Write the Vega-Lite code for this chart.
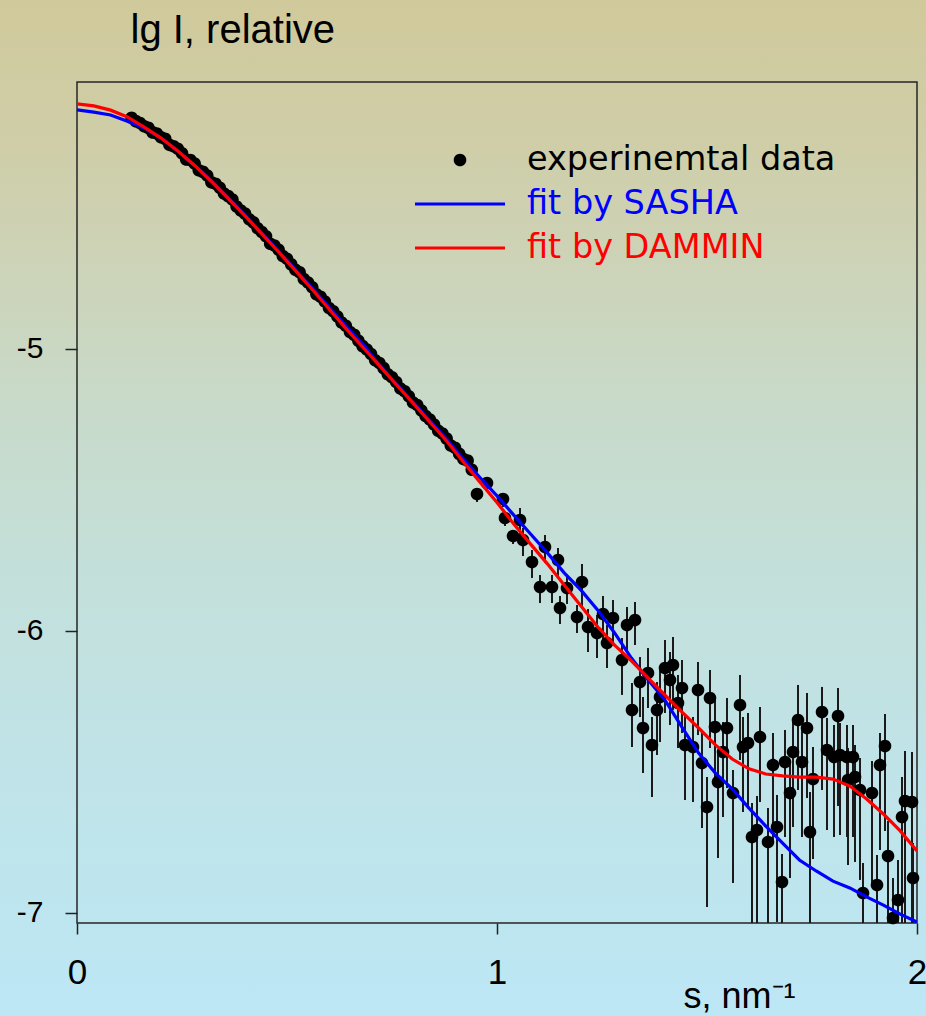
{
  "$schema": "https://vega.github.io/schema/vega-lite/v6.json",
  "width": 840,
  "height": 841,
  "autosize": {"type": "none"},
  "padding": {"left": 77, "top": 82, "right": 9, "bottom": 93},
  "background": "#c6dcd4",
  "config": {
    "view": {"stroke": null},
    "axis": {"zindex": 1, "grid": false, "domain": false, "tickColor": "#222222", "tickWidth": 1.5, "labelColor": "#000000", "titleColor": "#000000", "labelFont": "Liberation Sans", "titleFont": "Liberation Sans", "titleFontWeight": "normal"}
  },
  "datasets": {
    "bg": [{"x0": -0.3, "x1": 2.1, "y0": -3.5, "y1": -7.5}],
    "frame": [{"x0": 0, "x1": 2, "y0": -7.0355, "y1": -4.0532}],
    "sasha": [
      {"s": 0, "v": -4.152, "series": "fit by SASHA"}, {"s": 0.04, "v": -4.160, "series": "fit by SASHA"}, {"s": 0.08, "v": -4.170, "series": "fit by SASHA"}, {"s": 0.12, "v": -4.192, "series": "fit by SASHA"}, {"s": 0.16, "v": -4.216, "series": "fit by SASHA"}, {"s": 0.2, "v": -4.252, "series": "fit by SASHA"}, {"s": 0.24, "v": -4.298, "series": "fit by SASHA"}, {"s": 0.28, "v": -4.349, "series": "fit by SASHA"}, {"s": 0.32, "v": -4.404, "series": "fit by SASHA"}, {"s": 0.36, "v": -4.465, "series": "fit by SASHA"}, {"s": 0.4, "v": -4.525, "series": "fit by SASHA"}, {"s": 0.44, "v": -4.589, "series": "fit by SASHA"}, {"s": 0.48, "v": -4.653, "series": "fit by SASHA"}, {"s": 0.52, "v": -4.718, "series": "fit by SASHA"}, {"s": 0.56, "v": -4.784, "series": "fit by SASHA"}, {"s": 0.6, "v": -4.851, "series": "fit by SASHA"}, {"s": 0.64, "v": -4.918, "series": "fit by SASHA"}, {"s": 0.68, "v": -4.982, "series": "fit by SASHA"}, {"s": 0.72, "v": -5.057, "series": "fit by SASHA"}, {"s": 0.76, "v": -5.124, "series": "fit by SASHA"}, {"s": 0.8, "v": -5.188, "series": "fit by SASHA"}, {"s": 0.84, "v": -5.254, "series": "fit by SASHA"}, {"s": 0.88, "v": -5.319, "series": "fit by SASHA"}, {"s": 0.92, "v": -5.390, "series": "fit by SASHA"}, {"s": 0.96, "v": -5.457, "series": "fit by SASHA"}, {"s": 1.0, "v": -5.521, "series": "fit by SASHA"}, {"s": 1.04, "v": -5.589, "series": "fit by SASHA"}, {"s": 1.08, "v": -5.656, "series": "fit by SASHA"}, {"s": 1.12, "v": -5.723, "series": "fit by SASHA"}, {"s": 1.16, "v": -5.794, "series": "fit by SASHA"}, {"s": 1.2, "v": -5.855, "series": "fit by SASHA"}, {"s": 1.24, "v": -5.926, "series": "fit by SASHA"}, {"s": 1.28, "v": -6.007, "series": "fit by SASHA"}, {"s": 1.32, "v": -6.096, "series": "fit by SASHA"}, {"s": 1.36, "v": -6.174, "series": "fit by SASHA"}, {"s": 1.4, "v": -6.245, "series": "fit by SASHA"}, {"s": 1.44, "v": -6.340, "series": "fit by SASHA"}, {"s": 1.48, "v": -6.433, "series": "fit by SASHA"}, {"s": 1.52, "v": -6.504, "series": "fit by SASHA"}, {"s": 1.56, "v": -6.560, "series": "fit by SASHA"}, {"s": 1.6, "v": -6.628, "series": "fit by SASHA"}, {"s": 1.64, "v": -6.692, "series": "fit by SASHA"}, {"s": 1.68, "v": -6.752, "series": "fit by SASHA"}, {"s": 1.72, "v": -6.812, "series": "fit by SASHA"}, {"s": 1.76, "v": -6.851, "series": "fit by SASHA"}, {"s": 1.8, "v": -6.887, "series": "fit by SASHA"}, {"s": 1.84, "v": -6.911, "series": "fit by SASHA"}, {"s": 1.88, "v": -6.943, "series": "fit by SASHA"}, {"s": 1.92, "v": -6.972, "series": "fit by SASHA"}, {"s": 1.96, "v": -7.004, "series": "fit by SASHA"}, {"s": 2.0, "v": -7.032, "series": "fit by SASHA"}
    ],
    "dammin": [
      {"s": 0, "v": -4.131, "series": "fit by DAMMIN"}, {"s": 0.04, "v": -4.138, "series": "fit by DAMMIN"}, {"s": 0.08, "v": -4.153, "series": "fit by DAMMIN"}, {"s": 0.12, "v": -4.177, "series": "fit by DAMMIN"}, {"s": 0.16, "v": -4.213, "series": "fit by DAMMIN"}, {"s": 0.2, "v": -4.252, "series": "fit by DAMMIN"}, {"s": 0.24, "v": -4.298, "series": "fit by DAMMIN"}, {"s": 0.28, "v": -4.349, "series": "fit by DAMMIN"}, {"s": 0.32, "v": -4.406, "series": "fit by DAMMIN"}, {"s": 0.36, "v": -4.466, "series": "fit by DAMMIN"}, {"s": 0.4, "v": -4.528, "series": "fit by DAMMIN"}, {"s": 0.44, "v": -4.592, "series": "fit by DAMMIN"}, {"s": 0.48, "v": -4.656, "series": "fit by DAMMIN"}, {"s": 0.52, "v": -4.722, "series": "fit by DAMMIN"}, {"s": 0.56, "v": -4.789, "series": "fit by DAMMIN"}, {"s": 0.6, "v": -4.858, "series": "fit by DAMMIN"}, {"s": 0.64, "v": -4.927, "series": "fit by DAMMIN"}, {"s": 0.68, "v": -4.993, "series": "fit by DAMMIN"}, {"s": 0.72, "v": -5.059, "series": "fit by DAMMIN"}, {"s": 0.76, "v": -5.126, "series": "fit by DAMMIN"}, {"s": 0.8, "v": -5.192, "series": "fit by DAMMIN"}, {"s": 0.84, "v": -5.259, "series": "fit by DAMMIN"}, {"s": 0.88, "v": -5.326, "series": "fit by DAMMIN"}, {"s": 0.92, "v": -5.401, "series": "fit by DAMMIN"}, {"s": 0.96, "v": -5.473, "series": "fit by DAMMIN"}, {"s": 1.0, "v": -5.544, "series": "fit by DAMMIN"}, {"s": 1.04, "v": -5.621, "series": "fit by DAMMIN"}, {"s": 1.08, "v": -5.692, "series": "fit by DAMMIN"}, {"s": 1.12, "v": -5.762, "series": "fit by DAMMIN"}, {"s": 1.16, "v": -5.837, "series": "fit by DAMMIN"}, {"s": 1.2, "v": -5.911, "series": "fit by DAMMIN"}, {"s": 1.24, "v": -5.986, "series": "fit by DAMMIN"}, {"s": 1.28, "v": -6.050, "series": "fit by DAMMIN"}, {"s": 1.32, "v": -6.106, "series": "fit by DAMMIN"}, {"s": 1.36, "v": -6.167, "series": "fit by DAMMIN"}, {"s": 1.4, "v": -6.227, "series": "fit by DAMMIN"}, {"s": 1.44, "v": -6.287, "series": "fit by DAMMIN"}, {"s": 1.48, "v": -6.344, "series": "fit by DAMMIN"}, {"s": 1.52, "v": -6.404, "series": "fit by DAMMIN"}, {"s": 1.56, "v": -6.454, "series": "fit by DAMMIN"}, {"s": 1.6, "v": -6.489, "series": "fit by DAMMIN"}, {"s": 1.64, "v": -6.507, "series": "fit by DAMMIN"}, {"s": 1.68, "v": -6.514, "series": "fit by DAMMIN"}, {"s": 1.72, "v": -6.518, "series": "fit by DAMMIN"}, {"s": 1.76, "v": -6.518, "series": "fit by DAMMIN"}, {"s": 1.8, "v": -6.525, "series": "fit by DAMMIN"}, {"s": 1.84, "v": -6.550, "series": "fit by DAMMIN"}, {"s": 1.88, "v": -6.596, "series": "fit by DAMMIN"}, {"s": 1.92, "v": -6.649, "series": "fit by DAMMIN"}, {"s": 1.96, "v": -6.709, "series": "fit by DAMMIN"}, {"s": 2.0, "v": -6.780, "series": "fit by DAMMIN"}
    ],
    "pts": [
      {"s": 0.13, "v": -4.180, "series": "experinemtal data"}, {"s": 0.14, "v": -4.192, "series": "experinemtal data"}, {"s": 0.15, "v": -4.199, "series": "experinemtal data"}, {"s": 0.16, "v": -4.210, "series": "experinemtal data"}, {"s": 0.17, "v": -4.216, "series": "experinemtal data"}, {"s": 0.18, "v": -4.232, "series": "experinemtal data"}, {"s": 0.19, "v": -4.236, "series": "experinemtal data"}, {"s": 0.20, "v": -4.249, "series": "experinemtal data"}, {"s": 0.21, "v": -4.255, "series": "experinemtal data"}, {"s": 0.22, "v": -4.276, "series": "experinemtal data"},
      {"s": 0.23, "v": -4.281, "series": "experinemtal data"}, {"s": 0.24, "v": -4.290, "series": "experinemtal data"}, {"s": 0.25, "v": -4.306, "series": "experinemtal data"}, {"s": 0.26, "v": -4.328, "series": "experinemtal data"}, {"s": 0.27, "v": -4.330, "series": "experinemtal data"}, {"s": 0.28, "v": -4.342, "series": "experinemtal data"}, {"s": 0.29, "v": -4.366, "series": "experinemtal data"}, {"s": 0.30, "v": -4.372, "series": "experinemtal data"}, {"s": 0.31, "v": -4.385, "series": "experinemtal data"}, {"s": 0.32, "v": -4.409, "series": "experinemtal data"},
      {"s": 0.33, "v": -4.414, "series": "experinemtal data"}, {"s": 0.34, "v": -4.428, "series": "experinemtal data"}, {"s": 0.35, "v": -4.449, "series": "experinemtal data"}, {"s": 0.36, "v": -4.458, "series": "experinemtal data"}, {"s": 0.37, "v": -4.470, "series": "experinemtal data"}, {"s": 0.38, "v": -4.495, "series": "experinemtal data"}, {"s": 0.39, "v": -4.509, "series": "experinemtal data"}, {"s": 0.40, "v": -4.520, "series": "experinemtal data"}, {"s": 0.41, "v": -4.540, "series": "experinemtal data"}, {"s": 0.42, "v": -4.551, "series": "experinemtal data"},
      {"s": 0.43, "v": -4.572, "series": "experinemtal data"}, {"s": 0.44, "v": -4.585, "series": "experinemtal data"}, {"s": 0.45, "v": -4.600, "series": "experinemtal data"}, {"s": 0.46, "v": -4.627, "series": "experinemtal data"}, {"s": 0.47, "v": -4.633, "series": "experinemtal data"}, {"s": 0.48, "v": -4.648, "series": "experinemtal data"}, {"s": 0.49, "v": -4.670, "series": "experinemtal data"}, {"s": 0.50, "v": -4.680, "series": "experinemtal data"}, {"s": 0.51, "v": -4.700, "series": "experinemtal data"}, {"s": 0.52, "v": -4.719, "series": "experinemtal data"},
      {"s": 0.53, "v": -4.728, "series": "experinemtal data"}, {"s": 0.54, "v": -4.752, "series": "experinemtal data"}, {"s": 0.55, "v": -4.764, "series": "experinemtal data"}, {"s": 0.56, "v": -4.781, "series": "experinemtal data"}, {"s": 0.57, "v": -4.806, "series": "experinemtal data"}, {"s": 0.58, "v": -4.815, "series": "experinemtal data"}, {"s": 0.59, "v": -4.832, "series": "experinemtal data"}, {"s": 0.60, "v": -4.855, "series": "experinemtal data"}, {"s": 0.61, "v": -4.866, "series": "experinemtal data"}, {"s": 0.62, "v": -4.885, "series": "experinemtal data"},
      {"s": 0.63, "v": -4.906, "series": "experinemtal data"}, {"s": 0.64, "v": -4.918, "series": "experinemtal data"}, {"s": 0.65, "v": -4.940, "series": "experinemtal data"}, {"s": 0.66, "v": -4.950, "series": "experinemtal data"}, {"s": 0.67, "v": -4.971, "series": "experinemtal data"}, {"s": 0.68, "v": -4.990, "series": "experinemtal data"}, {"s": 0.69, "v": -5.002, "series": "experinemtal data"}, {"s": 0.70, "v": -5.018, "series": "experinemtal data"}, {"s": 0.71, "v": -5.040, "series": "experinemtal data"}, {"s": 0.72, "v": -5.050, "series": "experinemtal data"},
      {"s": 0.73, "v": -5.068, "series": "experinemtal data"}, {"s": 0.74, "v": -5.090, "series": "experinemtal data"}, {"s": 0.75, "v": -5.100, "series": "experinemtal data"}, {"s": 0.76, "v": -5.117, "series": "experinemtal data"}, {"s": 0.77, "v": -5.140, "series": "experinemtal data"}, {"s": 0.78, "v": -5.150, "series": "experinemtal data"}, {"s": 0.79, "v": -5.168, "series": "experinemtal data"}, {"s": 0.80, "v": -5.190, "series": "experinemtal data"}, {"s": 0.81, "v": -5.199, "series": "experinemtal data"}, {"s": 0.82, "v": -5.218, "series": "experinemtal data"},
      {"s": 0.83, "v": -5.238, "series": "experinemtal data"}, {"s": 0.84, "v": -5.250, "series": "experinemtal data"}, {"s": 0.85, "v": -5.268, "series": "experinemtal data"}, {"s": 0.86, "v": -5.290, "series": "experinemtal data"}, {"s": 0.87, "v": -5.300, "series": "experinemtal data"}, {"s": 0.88, "v": -5.318, "series": "experinemtal data"}, {"s": 0.89, "v": -5.342, "series": "experinemtal data"}, {"s": 0.90, "v": -5.350, "series": "experinemtal data"}, {"s": 0.91, "v": -5.372, "series": "experinemtal data"}, {"s": 0.92, "v": -5.390, "series": "experinemtal data"},
      {"s": 0.93, "v": -5.396, "series": "experinemtal data"}, {"s": 0.94, "v": -5.428, "series": "experinemtal data"},
      {"s": 0.9524, "v": -5.5142, "lo": -5.5426, "hi": -5.4929, "series": "experinemtal data"},
      {"s": 0.9762, "v": -5.4752, "lo": -5.5036, "hi": -5.4539, "series": "experinemtal data"},
      {"s": 1.0143, "v": -5.5319, "lo": -5.5603, "hi": -5.5106, "series": "experinemtal data"},
      {"s": 1.0190, "v": -5.5993, "lo": -5.6277, "hi": -5.5780, "series": "experinemtal data"},
      {"s": 1.0381, "v": -5.6631, "lo": -5.6915, "hi": -5.6418, "series": "experinemtal data"},
      {"s": 1.0548, "v": -5.6064, "lo": -5.6631, "hi": -5.5638, "series": "experinemtal data"},
      {"s": 1.0619, "v": -5.6773, "lo": -5.7340, "hi": -5.6347, "series": "experinemtal data"},
      {"s": 1.0833, "v": -5.7553, "lo": -5.8120, "hi": -5.7127, "series": "experinemtal data"},
      {"s": 1.1024, "v": -5.8440, "lo": -5.9007, "hi": -5.8014, "series": "experinemtal data"},
      {"s": 1.1143, "v": -5.7021, "lo": -5.7588, "hi": -5.6595, "series": "experinemtal data"},
      {"s": 1.1310, "v": -5.8440, "lo": -5.9007, "hi": -5.8014, "series": "experinemtal data"},
      {"s": 1.1452, "v": -5.7482, "lo": -5.8049, "hi": -5.7056, "series": "experinemtal data"},
      {"s": 1.1500, "v": -5.9184, "lo": -5.9751, "hi": -5.8758, "series": "experinemtal data"},
      {"s": 1.1667, "v": -5.8475, "lo": -5.9042, "hi": -5.8049, "series": "experinemtal data"},
      {"s": 1.1905, "v": -5.9504, "lo": -6.0071, "hi": -5.9078, "series": "experinemtal data"},
      {"s": 1.2024, "v": -5.8262, "lo": -5.9149, "hi": -5.7624, "series": "experinemtal data"},
      {"s": 1.2167, "v": -5.9858, "lo": -6.0745, "hi": -5.9220, "series": "experinemtal data"},
      {"s": 1.2381, "v": -6.0071, "lo": -6.0958, "hi": -5.9433, "series": "experinemtal data"},
      {"s": 1.2524, "v": -5.9397, "lo": -6.0284, "hi": -5.8759, "series": "experinemtal data"},
      {"s": 1.2619, "v": -6.0426, "lo": -6.1313, "hi": -5.9788, "series": "experinemtal data"},
      {"s": 1.2762, "v": -5.9539, "lo": -6.0426, "hi": -5.8901, "series": "experinemtal data"},
      {"s": 1.2976, "v": -6.1028, "lo": -6.2268, "hi": -6.0248, "series": "experinemtal data"},
      {"s": 1.3095, "v": -5.9787, "lo": -6.0674, "hi": -5.9149, "series": "experinemtal data"},
      {"s": 1.3286, "v": -5.9610, "lo": -6.0497, "hi": -5.8972, "series": "experinemtal data"},
      {"s": 1.3214, "v": -6.2801, "lo": -6.4113, "hi": -6.1844, "series": "experinemtal data"},
      {"s": 1.3405, "v": -6.1809, "lo": -6.3050, "hi": -6.0922, "series": "experinemtal data"},
      {"s": 1.3476, "v": -6.3440, "lo": -6.5036, "hi": -6.2341, "series": "experinemtal data"},
      {"s": 1.3595, "v": -6.1489, "lo": -6.2730, "hi": -6.0602, "series": "experinemtal data"},
      {"s": 1.3690, "v": -6.4043, "lo": -6.5887, "hi": -6.3050, "series": "experinemtal data"},
      {"s": 1.3810, "v": -6.2801, "lo": -6.4397, "hi": -6.1808, "series": "experinemtal data"},
      {"s": 1.3881, "v": -6.2340, "lo": -6.3936, "hi": -6.1347, "series": "experinemtal data"},
      {"s": 1.4000, "v": -6.1312, "lo": -6.2908, "hi": -6.0319, "series": "experinemtal data"},
      {"s": 1.4119, "v": -6.1738, "lo": -6.3334, "hi": -6.0745, "series": "experinemtal data"},
      {"s": 1.4190, "v": -6.1206, "lo": -6.2802, "hi": -6.0213, "series": "experinemtal data"},
      {"s": 1.4310, "v": -6.2553, "lo": -6.4149, "hi": -6.1560, "series": "experinemtal data"},
      {"s": 1.4405, "v": -6.2021, "lo": -6.3617, "hi": -6.1028, "series": "experinemtal data"},
      {"s": 1.4476, "v": -6.4043, "lo": -6.5993, "hi": -6.2979, "series": "experinemtal data"},
      {"s": 1.4667, "v": -6.4114, "lo": -6.6064, "hi": -6.3050, "series": "experinemtal data"},
      {"s": 1.4786, "v": -6.2092, "lo": -6.3688, "hi": -6.1099, "series": "experinemtal data"},
      {"s": 1.4881, "v": -6.4681, "lo": -6.6986, "hi": -6.3617, "series": "experinemtal data"},
      {"s": 1.5000, "v": -6.6241, "lo": -6.9787, "hi": -6.5177, "series": "experinemtal data"},
      {"s": 1.5071, "v": -6.2376, "lo": -6.4149, "hi": -6.1383, "series": "experinemtal data"},
      {"s": 1.5190, "v": -6.3404, "lo": -6.5532, "hi": -6.2340, "series": "experinemtal data"},
      {"s": 1.5262, "v": -6.5355, "lo": -6.8050, "hi": -6.4291, "series": "experinemtal data"},
      {"s": 1.5381, "v": -6.4291, "lo": -6.6596, "hi": -6.3227, "series": "experinemtal data"},
      {"s": 1.5476, "v": -6.3440, "lo": -6.5568, "hi": -6.2376, "series": "experinemtal data"},
      {"s": 1.5619, "v": -6.5745, "lo": -6.8936, "hi": -6.4929, "series": "experinemtal data"},
      {"s": 1.5786, "v": -6.2624, "lo": -6.4574, "hi": -6.1560, "series": "experinemtal data"},
      {"s": 1.5857, "v": -6.4114, "lo": -6.6419, "hi": -6.3050, "series": "experinemtal data"},
      {"s": 1.5976, "v": -6.3972, "lo": -6.6277, "hi": -6.2908, "series": "experinemtal data"},
      {"s": 1.6071, "v": -6.7305, "lo": -7.3, "hi": -6.6099, "series": "experinemtal data"},
      {"s": 1.6190, "v": -6.7057, "lo": -7.3, "hi": -6.5851, "series": "experinemtal data"},
      {"s": 1.6262, "v": -6.3759, "lo": -6.6064, "hi": -6.2695, "series": "experinemtal data"},
      {"s": 1.6452, "v": -6.7482, "lo": -7.3, "hi": -6.6276, "series": "experinemtal data"},
      {"s": 1.6571, "v": -6.4752, "lo": -6.7412, "hi": -6.3617, "series": "experinemtal data"},
      {"s": 1.6667, "v": -6.6950, "lo": -7.0319, "hi": -6.5815, "series": "experinemtal data"},
      {"s": 1.6786, "v": -6.8901, "lo": -7.3, "hi": -6.7908, "series": "experinemtal data"},
      {"s": 1.6857, "v": -6.4645, "lo": -6.7305, "hi": -6.3510, "series": "experinemtal data"},
      {"s": 1.6976, "v": -6.5745, "lo": -6.8759, "hi": -6.4610, "series": "experinemtal data"},
      {"s": 1.7048, "v": -6.4291, "lo": -6.6951, "hi": -6.3156, "series": "experinemtal data"},
      {"s": 1.7167, "v": -6.3156, "lo": -6.5638, "hi": -6.1915, "series": "experinemtal data"},
      {"s": 1.7262, "v": -6.4645, "lo": -6.7305, "hi": -6.3510, "series": "experinemtal data"},
      {"s": 1.7381, "v": -6.3440, "lo": -6.5922, "hi": -6.2199, "series": "experinemtal data"},
      {"s": 1.7452, "v": -6.7128, "lo": -7.3, "hi": -6.5710, "series": "experinemtal data"},
      {"s": 1.7524, "v": -6.5248, "lo": -6.8085, "hi": -6.4113, "series": "experinemtal data"},
      {"s": 1.7738, "v": -6.2872, "lo": -6.5638, "hi": -6.1985, "series": "experinemtal data"},
      {"s": 1.7857, "v": -6.4220, "lo": -6.7057, "hi": -6.3085, "series": "experinemtal data"},
      {"s": 1.8024, "v": -6.4468, "lo": -6.7305, "hi": -6.3333, "series": "experinemtal data"},
      {"s": 1.8119, "v": -6.3014, "lo": -6.6205, "hi": -6.2021, "series": "experinemtal data"},
      {"s": 1.8167, "v": -6.4397, "lo": -6.7234, "hi": -6.3262, "series": "experinemtal data"},
      {"s": 1.8333, "v": -6.4468, "lo": -6.7305, "hi": -6.3333, "series": "experinemtal data"},
      {"s": 1.8357, "v": -6.5284, "lo": -6.8298, "hi": -6.4149, "series": "experinemtal data"},
      {"s": 1.8476, "v": -6.4468, "lo": -6.7305, "hi": -6.3333, "series": "experinemtal data"},
      {"s": 1.8524, "v": -6.5177, "lo": -6.8191, "hi": -6.4042, "series": "experinemtal data"},
      {"s": 1.8643, "v": -6.5638, "lo": -6.8829, "hi": -6.4503, "series": "experinemtal data"},
      {"s": 1.8714, "v": -6.9291, "lo": -7.3, "hi": -6.8227, "series": "experinemtal data"},
      {"s": 1.8929, "v": -6.5745, "lo": -6.8936, "hi": -6.4610, "series": "experinemtal data"},
      {"s": 1.9048, "v": -6.9007, "lo": -7.3, "hi": -6.7943, "series": "experinemtal data"},
      {"s": 1.9119, "v": -6.4752, "lo": -6.7766, "hi": -6.3617, "series": "experinemtal data"},
      {"s": 1.9238, "v": -6.4078, "lo": -6.7092, "hi": -6.2943, "series": "experinemtal data"},
      {"s": 1.9310, "v": -6.7979, "lo": -7.3, "hi": -6.6738, "series": "experinemtal data"},
      {"s": 1.9429, "v": -7.0177, "lo": -7.3, "hi": -6.8759, "series": "experinemtal data"},
      {"s": 1.9548, "v": -6.9539, "lo": -7.3, "hi": -6.8121, "series": "experinemtal data"},
      {"s": 1.9643, "v": -6.6596, "lo": -7.3, "hi": -6.5178, "series": "experinemtal data"},
      {"s": 1.9714, "v": -6.6028, "lo": -7.3, "hi": -6.4255, "series": "experinemtal data"},
      {"s": 1.9881, "v": -6.6064, "lo": -7.3, "hi": -6.4291, "series": "experinemtal data"},
      {"s": 1.9905, "v": -6.8759, "lo": -7.3, "hi": -6.7518, "series": "experinemtal data"}
    ]
  },
  "layer": [
    {
      "data": {"name": "bg"},
      "mark": {"type": "rect", "clip": false, "fill": {"gradient": "linear", "x1": 0, "y1": 0, "x2": 0, "y2": 1, "stops": [
        {"offset": 0, "color": "#d0c99b"}, {"offset": 0.0656, "color": "#d0c99b"}, {"offset": 0.1986, "color": "#cfcea9"}, {"offset": 0.3316, "color": "#ccd5bc"}, {"offset": 0.4202, "color": "#c8dac9"}, {"offset": 0.5532, "color": "#c4dfd8"}, {"offset": 0.7305, "color": "#c0e3e7"}, {"offset": 0.9663, "color": "#bce7f5"}, {"offset": 1, "color": "#bce7f5"}]}},
      "encoding": {
        "x": {"field": "x0", "type": "quantitative", "scale": {"domain": [0, 2], "nice": false, "zero": false},
          "axis": {"zindex": 2, "values": [0, 1, 2], "tickSize": 11, "labelPadding": 21, "labelFontSize": 35, "labelFlush": false, "labelBound": false, "labelOverlap": false, "labelExpr": "'' + datum.value", "title": "s, nm⁻¹", "titleFontSize": 36, "titleX": 662, "titleY": 84, "titleAlign": "center", "titleBaseline": "alphabetic"}},
        "x2": {"field": "x1"},
        "y": {"field": "y0", "type": "quantitative", "scale": {"domain": [-7.0355, -4.0532], "nice": false, "zero": false},
          "axis": {"zindex": 2, "values": [-5, -6, -7], "tickSize": 12, "labelPadding": 22, "labelFontSize": 30, "labelFlush": false, "labelExpr": "'' + datum.value", "title": "lg I, relative", "titleFontSize": 40, "titleAngle": 0, "titleX": 53, "titleY": -40, "titleAlign": "left", "titleBaseline": "alphabetic"}},
        "y2": {"field": "y1"}
      }
    },
    {
      "data": {"name": "frame"},
      "mark": {"type": "rect", "fill": "transparent", "stroke": "#262626", "strokeWidth": 1.5},
      "encoding": {
        "x": {"field": "x0", "type": "quantitative"},
        "x2": {"field": "x1"},
        "y": {"field": "y0", "type": "quantitative"},
        "y2": {"field": "y1"}
      }
    },
    {
      "data": {"name": "pts"},
      "transform": [{"filter": "isValid(datum.lo)"}],
      "mark": {"type": "rule", "clip": true, "color": "#1a1a1a", "strokeWidth": 2},
      "encoding": {
        "x": {"field": "s", "type": "quantitative"},
        "y": {"field": "lo", "type": "quantitative"},
        "y2": {"field": "hi"}
      }
    },
    {
      "data": {"name": "pts"},
      "mark": {"type": "point", "filled": true, "size": 8100, "strokeWidth": 0, "opacity": 1},
      "encoding": {
        "x": {"field": "s", "type": "quantitative"},
        "y": {"field": "v", "type": "quantitative"},
        "fill": {"field": "series", "type": "nominal",
          "scale": {"domain": ["experinemtal data", "fit by SASHA", "fit by DAMMIN"], "range": ["#000000", "#0000ff", "#ff0000"]},
          "legend": {"title": null, "orient": "none", "legendX": 338, "legendY": 60, "padding": 0, "clipHeight": 36, "rowPadding": 8, "labelOffset": 22, "symbolSize": 8100, "symbolStrokeWidth": 0, "labelFont": "DejaVu Sans", "labelFontSize": 33.5, "labelLimit": 500,
            "labelColor": {"expr": "datum.label == 'fit by SASHA' ? '#0000ff' : datum.label == 'fit by DAMMIN' ? '#ff0000' : '#000000'"}}},
        "stroke": {"field": "series", "type": "nominal",
          "scale": {"domain": ["experinemtal data", "fit by SASHA", "fit by DAMMIN"], "range": ["#000000", "#0000ff", "#ff0000"]},
          "legend": {"title": null, "orient": "none", "legendX": 338, "legendY": 60, "padding": 0, "clipHeight": 36, "rowPadding": 8, "labelOffset": 22, "symbolSize": 8100, "symbolStrokeWidth": 0, "labelFont": "DejaVu Sans", "labelFontSize": 33.5, "labelLimit": 500,
            "labelColor": {"expr": "datum.label == 'fit by SASHA' ? '#0000ff' : datum.label == 'fit by DAMMIN' ? '#ff0000' : '#000000'"}}},
        "shape": {"field": "series", "type": "nominal",
          "scale": {"domain": ["experinemtal data", "fit by SASHA", "fit by DAMMIN"], "range": ["M-0.14,0A0.14,0.14,0,1,0,0.14,0A0.14,0.14,0,1,0,-0.14,0Z", "M-1,-0.036L1,-0.036L1,0.036L-1,0.036Z", "M-1,-0.036L1,-0.036L1,0.036L-1,0.036Z"]},
          "legend": {"title": null, "orient": "none", "legendX": 338, "legendY": 60, "padding": 0, "clipHeight": 36, "rowPadding": 8, "labelOffset": 22, "symbolSize": 8100, "symbolStrokeWidth": 0, "labelFont": "DejaVu Sans", "labelFontSize": 33.5, "labelLimit": 500,
            "labelColor": {"expr": "datum.label == 'fit by SASHA' ? '#0000ff' : datum.label == 'fit by DAMMIN' ? '#ff0000' : '#000000'"}}}
      }
    },
    {
      "data": {"name": "sasha"},
      "mark": {"type": "line", "clip": true, "strokeWidth": 3.2},
      "encoding": {
        "x": {"field": "s", "type": "quantitative"},
        "y": {"field": "v", "type": "quantitative"},
        "stroke": {"field": "series", "type": "nominal"}
      }
    },
    {
      "data": {"name": "dammin"},
      "mark": {"type": "line", "clip": true, "strokeWidth": 3.2},
      "encoding": {
        "x": {"field": "s", "type": "quantitative"},
        "y": {"field": "v", "type": "quantitative"},
        "stroke": {"field": "series", "type": "nominal"}
      }
    }
  ]
}
